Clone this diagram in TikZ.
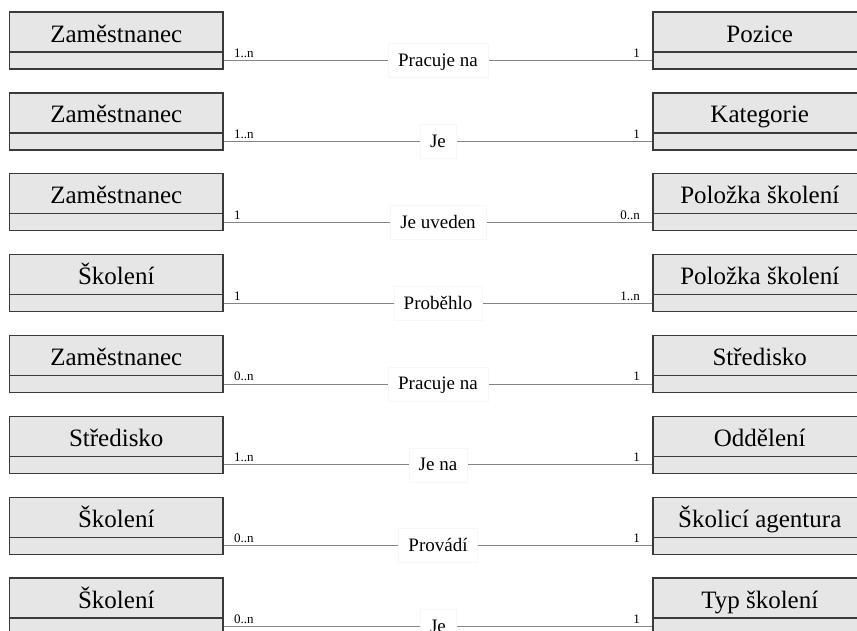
\documentclass[tikz,border=0pt]{standalone}
\usepackage{fontspec}
\setmainfont{Liberation Serif}
\definecolor{boxline}{HTML}{3A3A3A}
\definecolor{boxfill}{HTML}{E6E6E6}
\definecolor{assocline}{HTML}{858585}
\definecolor{labeledge}{HTML}{F7F7F7}
\tikzset{
  classname/.style={draw=boxline, line width=1.3pt, fill=boxfill,
    minimum width=213.5pt, minimum height=40pt, inner sep=0pt,
    text height=22pt, text depth=2pt,
    font=\fontsize{25}{27}\selectfont},
  classbody/.style={draw=boxline, line width=1.3pt, fill=boxfill,
    minimum width=213.5pt, minimum height=17pt, inner sep=0pt},
  assoc/.style={draw=assocline, line width=0.8pt},
  lrole/.style={pos=0, anchor=base west, xshift=10pt, yshift=3pt,
    inner sep=0pt, font=\fontsize{13}{13}\selectfont},
  rrole/.style={pos=1, anchor=base east, xshift=-12pt, yshift=3pt,
    inner sep=0pt, font=\fontsize{13}{13}\selectfont},
  relname/.style={pos=0.5, fill=white, draw=labeledge, line width=0.4pt,
    inner xsep=10pt, inner ysep=0pt, minimum height=34pt,
    text height=14pt, text depth=2pt,
    font=\fontsize{19}{21}\selectfont}
}
\begin{document}
\begin{tikzpicture}[x=1pt,y=-1pt]
  \useasboundingbox (0,0) rectangle (857,630);
  \clip (0,0) rectangle (857,630);
  \foreach \i/\lname/\lm/\rel/\rm/\rname in {
      0/Zaměstnanec/{1..n}/Pracuje na/1/Pozice,
      1/Zaměstnanec/{1..n}/Je/1/Kategorie,
      2/Zaměstnanec/1/Je uveden/{0..n}/Položka školení,
      3/Školení/1/Proběhlo/{1..n}/Položka školení,
      4/Zaměstnanec/{0..n}/Pracuje na/1/Středisko,
      5/Středisko/{1..n}/Je na/1/Oddělení,
      6/Školení/{0..n}/Provádí/1/Školicí agentura,
      7/Školení/{0..n}/Je/1/Typ školení} {
    \pgfmathsetmacro{\top}{12+80.86*\i}
    % left class
    \node[classname] (L\i) at (116.25,\top+20) {\lname};
    \node[classbody] (Lb\i) at (116.25,\top+48.5) {};
    % right class
    \node[classname] (R\i) at (759.75,\top+20) {\rname};
    \node[classbody] (Rb\i) at (759.75,\top+48.5) {};
    % association with multiplicities and name
    \draw[assoc] (Lb\i.east) --
      node[lrole] {\lm}
      node[relname] {\rel}
      node[rrole] {\rm}
      (Rb\i.west);
  }
\end{tikzpicture}
\end{document}
